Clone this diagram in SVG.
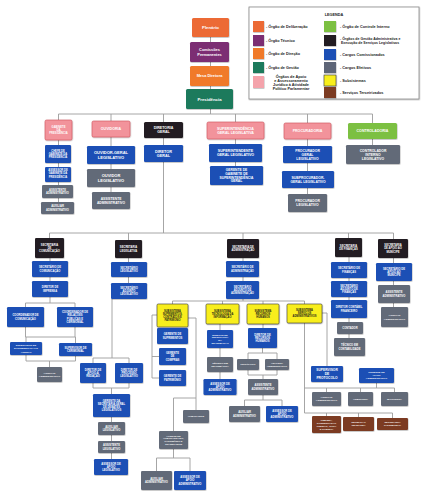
<svg xmlns="http://www.w3.org/2000/svg" width="433" height="502" viewBox="0 0 433 502">
<defs>
<filter id="sh" x="-10%" y="-10%" width="130%" height="140%"><feDropShadow dx="0.4" dy="0.6" stdDeviation="0.4" flood-color="#000" flood-opacity="0.35"/></filter>
<style>
.ln{fill:none;stroke:#9c9c9c;stroke-width:0.9}
rect{filter:url(#sh)}
.blue{fill:#1d4fb5}
.gray{fill:#626a78}
.blk{fill:#231f20}
.pink{fill:#f2939b;stroke:#d0505c;stroke-width:.6}
.yel{fill:#f8ee1d;stroke:#3a3a3a;stroke-width:.6}
.brn{fill:#7b3b22}
.grn{fill:#7cc043}
.org{fill:#f07a2a}
.red{fill:#ec6a35}
.pur{fill:#7b2d73}
.teal{fill:#1b7a5c}
text{font-family:"Liberation Sans",Arial,sans-serif;font-weight:bold;text-anchor:middle;fill:#fff;font-size:2.7px}
.dk{fill:#1a1a1a}
.lg{fill:#222;text-anchor:start;font-size:3.8px}
.s25{font-size:2.5px}
</style>
</defs>
<rect width="433" height="502" fill="#fff" style="filter:none"/>

<g id="connectors">
<path class="ln" d="M210.5,37V42M210.5,62V66M210.5,86V89M210.5,109V114"/>
<path class="ln" d="M58.5,114H372.5M58.5,114V120M111,114V121M163.5,114V122M235.5,114V122M307.5,114V123M372.5,114V123"/>
<path class="ln" d="M58.5,140V145M58.5,163V167M58.5,182V185M58.5,198V202"/>
<path class="ln" d="M111,137V146M111,164V169M111,187V192"/>
<path class="ln" d="M163.5,138V145M163.5,162V233"/>
<path class="ln" d="M235.5,139V144M235.5,162V166"/>
<path class="ln" d="M307.5,139V146M307.5,163V171M307.5,188V194"/>
<path class="ln" d="M372.5,139V145"/>
<path class="ln" d="M49.5,233H393.5M49.5,233V238M128.5,233V240M243,233V239M348.5,233V238M393.5,233V239"/>
<path class="ln" d="M50,258V261M50,277V281M50,297V303M25.5,303H75M25.5,303V307M75,303V307M25.5,327V337M75,327V337M25.5,337H75.5M26,337V342M75.5,337V343M26,355V361M75.5,356V361M26,361H75.5M49.5,361V367"/>
<path class="ln" d="M128.5,258V262M128.5,277V283M112,299V358M93,358H129M93,358V363M129,358V363M93,383V388M129,383V388M93,388H129M111.5,388V394M111.5,417V422M111.5,435V441M111.5,453V459"/>
<path class="ln" d="M243,258V261M243,277V281M243,299V301M172.5,301H304.5M172.5,301V304M222.5,301V304M263,301V304M304.5,301V304"/>
<path class="ln" d="M157,315H152V378H159M152,356.5H159M188,318H196V410M196,398H173.5V431M173.5,449V458M156.5,458H190M156.5,458V471M190,458V471"/>
<path class="ln" d="M220,324V379"/>
<path class="ln" d="M263,324V328M262.5,348V353M248,353H277M248,353V359M277,353V359M248,370V375M277,370V375M248,375H277M263,375V379M263,395V400M244.5,400H282M244.5,400V406M282,400V406"/>
<path class="ln" d="M304.5,304V413M304.5,388H394.5M326.5,388V392M360.5,388V392M394.5,388V392M376.5,383V388M304.5,413H392.5M326.5,413V416M358.5,413V417M392.5,413V418M322,313H327V366"/>
<path class="ln" d="M349,257V262M349,278V281M349,297V300M349,318V322M349,334V338"/>
<path class="ln" d="M393.5,258V263M393.5,281V285M393.5,303V307"/>
</g>

<g id="legenda">
<rect x="249" y="7" width="170" height="92" fill="#fff" stroke="#8a8a8a" stroke-width="0.8"/>
<text x="334" y="15.5" style="fill:#222;font-size:3.8px">LEGENDA</text>
<rect x="253" y="21" width="11" height="11" class="red"/>
<text class="lg" x="266" y="27.9">- Órgão de Deliberação</text>
<rect x="253" y="35" width="11" height="11" class="pur"/>
<text class="lg" x="266" y="41.9">- Órgão Técnico</text>
<rect x="253" y="48" width="11" height="11" class="org"/>
<text class="lg" x="266" y="54.9">- Órgão de Direção</text>
<rect x="253" y="62" width="11" height="11" class="teal"/>
<text class="lg" x="266" y="68.9">- Órgão de Gestão</text>
<rect x="253" y="76" width="11" height="12" fill="#f4a3ab"/>
<text class="lg" style="text-anchor:middle" x="291" y="77.6"><tspan x="291">Órgãos de Apoio</tspan><tspan x="291" dy="4.1">e Assessoramento</tspan><tspan x="291" dy="4.1">Jurídico à Atividade</tspan><tspan x="291" dy="4.1">Político Parlamentar</tspan></text>
<rect x="324" y="21" width="12" height="11" class="grn"/>
<text class="lg" x="340" y="27.9">- Órgão de Controle Interno</text>
<rect x="324" y="35" width="12" height="11" class="blk"/>
<text class="lg" x="340" y="39.8" style="font-size:3.5px"><tspan x="340">- Órgãos de Gestão Administrativa e</tspan><tspan x="341" dy="4">Execução de Serviços Legislativos</tspan></text>
<rect x="324" y="49" width="12" height="11" class="blue"/>
<text class="lg" x="340" y="55.9">- Cargos Comissionados</text>
<rect x="324" y="62" width="12" height="11" fill="#5d6577"/>
<text class="lg" x="340" y="68.9">- Cargos Efetivos</text>
<rect x="324" y="75" width="12" height="11" class="yel"/>
<text class="lg" x="340" y="81.9">- Subsistemas</text>
<rect x="324" y="87" width="12" height="11" class="brn"/>
<text class="lg" x="340" y="93.9">- Serviços Terceirizados</text>
</g>

<g id="plenario"><rect x="192" y="18" width="37" height="19" rx="1.5" class="red"/><text x="210.5" y="29.1" style="font-size:4.3px">Plenário</text></g>
<g id="comissoes"><rect x="190" y="42" width="39" height="20" rx="1.5" class="pur"/><text style="font-size:3.9px"><tspan x="209.5" y="51.1">Comissões</tspan><tspan x="209.5" y="55.7">Permanentes</tspan></text></g>
<g id="mesa"><rect x="190" y="66" width="39" height="20" rx="1.5" class="org"/><text x="209.5" y="77.4" style="font-size:3.9px">Mesa Diretora</text></g>
<g id="presidencia"><rect x="186" y="89" width="47" height="20" rx="1.5" class="teal"/><text x="209.5" y="100.6" style="font-size:4.3px">Presidência</text></g>

<g id="gab_pres"><rect x="45" y="120" width="27" height="20" rx="1.5" class="pink"/><text><tspan x="58.5" y="127.7">GABINETE</tspan><tspan x="58.5" y="131">DA</tspan><tspan x="58.5" y="134.3">PRESIDÊNCIA</tspan></text></g>
<g id="ouvidoria"><rect x="92" y="121" width="38" height="16" rx="1.5" class="pink"/><text x="111" y="130.25" style="font-size:3.6px">OUVIDORIA</text></g>
<g id="dir_geral"><rect x="144" y="122" width="39" height="16" rx="1.5" class="blk"/><text style="font-size:3.6px"><tspan x="163.5" y="129.2">DIRETORIA</tspan><tspan x="163.5" y="133.3">GERAL</tspan></text></g>
<g id="superint"><rect x="207" y="122" width="57" height="17" rx="1.5" class="pink"/><text style="font-size:3.6px"><tspan x="235.5" y="129.7">SUPERINTENDÊNCIA</tspan><tspan x="235.5" y="133.8">GERAL LEGISLATIVA</tspan></text></g>
<g id="procuradoria"><rect x="284" y="123" width="47" height="16" rx="1.5" class="pink"/><text x="307.5" y="132.25" style="font-size:3.6px">PROCURADORIA</text></g>
<g id="controladoria"><rect x="348" y="123" width="49" height="16" rx="1.5" class="grn"/><text x="372.5" y="132.25" style="font-size:3.6px">CONTROLADORIA</text></g>

<g id="chefe_gab"><rect x="45" y="145" width="26" height="18" rx="1.2" class="blue"/><text><tspan x="58" y="151.85">CHEFE DE</tspan><tspan x="58" y="154.95">GABINETE DA</tspan><tspan x="58" y="158.05">PRESIDÊNCIA</tspan></text></g>
<g id="assessor_gab"><rect x="45" y="167" width="26" height="15" rx="1.2" class="blue"/><text><tspan x="58" y="171.35">ASSESSOR DE</tspan><tspan x="58" y="174.45">GABINETE DA</tspan><tspan x="58" y="177.55">PRESIDÊNCIA</tspan></text></g>
<g id="assist_gab"><rect x="42" y="185" width="31" height="13" rx="1.2" class="gray"/><text><tspan x="57.5" y="190.9">ASSISTENTE</tspan><tspan x="57.5" y="194">ADMINISTRATIVO</tspan></text></g>
<g id="aux_gab"><rect x="41" y="202" width="33" height="12" rx="1.2" class="gray"/><text><tspan x="57.5" y="207.4">AUXILIAR</tspan><tspan x="57.5" y="210.5">ADMINISTRATIVO</tspan></text></g>

<g id="ouvidor_geral"><rect x="87" y="146" width="48" height="18" rx="1.2" class="blue"/><text style="font-size:4px"><tspan x="111" y="154.1">OUVIDOR-GERAL</tspan><tspan x="111" y="158.7">LEGISLATIVO</tspan></text></g>
<g id="ouvidor_leg"><rect x="87" y="169" width="48" height="18" rx="1.2" class="gray"/><text style="font-size:4px"><tspan x="111" y="177.1">OUVIDOR</tspan><tspan x="111" y="181.7">LEGISLATIVO</tspan></text></g>
<g id="assist_ouv"><rect x="92" y="192" width="38" height="17" rx="1.2" class="gray"/><text style="font-size:3.3px"><tspan x="111" y="199.75">ASSISTENTE</tspan><tspan x="111" y="203.55">ADMINISTRATIVO</tspan></text></g>
<g id="diretor_geral"><rect x="144" y="145" width="39" height="17" rx="1.2" class="blue"/><text style="font-size:3.8px"><tspan x="163.5" y="152.6">DIRETOR</tspan><tspan x="163.5" y="157">GERAL</tspan></text></g>
<g id="superintendente"><rect x="209" y="144" width="53" height="18" rx="1.2" class="blue"/><text style="font-size:3.6px"><tspan x="235.5" y="152.2">SUPERINTENDENTE</tspan><tspan x="235.5" y="156.3">GERAL LEGISLATIVO</tspan></text></g>
<g id="gerente_gab_sup"><rect x="210" y="166" width="53" height="19" rx="1.2" class="blue"/><text style="font-size:3.3px"><tspan x="236.5" y="171.1">GERENTE DE</tspan><tspan x="236.5" y="174.8">GABINETE DE</tspan><tspan x="236.5" y="178.5">SUPERINTENDÊNCIA</tspan><tspan x="236.5" y="182.2">GERAL</tspan></text></g>
<g id="procurador_geral"><rect x="283" y="146" width="49" height="17" rx="1.2" class="blue"/><text style="font-size:3.4px"><tspan x="307.5" y="151.8">PROCURADOR</tspan><tspan x="307.5" y="155.7">GERAL</tspan><tspan x="307.5" y="159.6">LEGISLATIVO</tspan></text></g>
<g id="subprocurador"><rect x="282" y="171" width="52" height="17" rx="1.2" class="blue"/><text style="font-size:3.4px"><tspan x="308" y="178.75">SUBPROCURADOR-</tspan><tspan x="308" y="182.65">GERAL LEGISLATIVO</tspan></text></g>
<g id="procurador_leg"><rect x="288" y="194" width="39" height="18" rx="1.2" class="gray"/><text style="font-size:3.4px"><tspan x="307.5" y="202.25">PROCURADOR</tspan><tspan x="307.5" y="206.15">LEGISLATIVO</tspan></text></g>
<g id="controlador"><rect x="346" y="145" width="54" height="19" rx="1.2" class="gray"/><text style="font-size:3.4px"><tspan x="373" y="151.8">CONTROLADOR</tspan><tspan x="373" y="155.7">INTERNO</tspan><tspan x="373" y="159.6">LEGISLATIVO</tspan></text></g>

<g id="sec_com"><rect x="35" y="238" width="29" height="20" rx="1.2" class="blk"/><text><tspan x="49.5" y="245.85">SECRETARIA</tspan><tspan x="49.5" y="248.95">DE</tspan><tspan x="49.5" y="252.05">COMUNICAÇÃO</tspan></text></g>
<g id="sec_leg"><rect x="115" y="240" width="27" height="18" rx="1.2" class="blk"/><text><tspan x="128.5" y="248.4">SECRETARIA</tspan><tspan x="128.5" y="251.5">LEGISLATIVA</tspan></text></g>
<g id="sec_adm"><rect x="227" y="239" width="32" height="19" rx="1.2" class="blk"/><text><tspan x="243" y="247.9">SECRETARIA DE</tspan><tspan x="243" y="251">ADMINISTRAÇÃO</tspan></text></g>
<g id="sec_fin"><rect x="335" y="238" width="27" height="19" rx="1.2" class="blk"/><text><tspan x="348.5" y="246.9">SECRETARIA</tspan><tspan x="348.5" y="250">DE FINANÇAS</tspan></text></g>
<g id="sec_mun"><rect x="378" y="239" width="30" height="19" rx="1.2" class="blk"/><text><tspan x="393" y="246.35">SECRETARIA</tspan><tspan x="393" y="249.45">DE APOIO AO</tspan><tspan x="393" y="252.55">MUNÍCIPE</tspan></text></g>

<g id="secretario_com"><rect x="32" y="261" width="36" height="16" rx="1.2" class="blue"/><text><tspan x="50" y="268.4">SECRETÁRIO DE</tspan><tspan x="50" y="271.5">COMUNICAÇÃO</tspan></text></g>
<g id="diretor_imp"><rect x="32" y="281" width="36" height="16" rx="1.2" class="blue"/><text><tspan x="50" y="288.4">DIRETOR DE</tspan><tspan x="50" y="291.5">IMPRENSA</tspan></text></g>
<g id="coord_com"><rect x="7" y="307" width="37" height="20" rx="1.2" class="blue"/><text><tspan x="25.5" y="316.4">COORDENADOR DE</tspan><tspan x="25.5" y="319.5">COMUNICAÇÃO</tspan></text></g>
<g id="coord_rel"><rect x="57" y="307" width="36" height="20" rx="1.2" class="blue"/><text><tspan x="75" y="313.3">COORDENADOR DE</tspan><tspan x="75" y="316.4">RELAÇÕES</tspan><tspan x="75" y="319.5">PÚBLICAS E</tspan><tspan x="75" y="322.6">CERIMONIAL</tspan></text></g>
<g id="sup_doc"><rect x="10" y="342" width="32" height="13" rx="1.2" class="blue"/><text class="s25"><tspan x="26" y="346.35">SUPERVISOR DE</tspan><tspan x="26" y="349.45">DOCUMENTAÇÃO E</tspan><tspan x="26" y="352.55">ACERVO</tspan></text></g>
<g id="sup_cer"><rect x="59" y="343" width="33" height="13" rx="1.2" class="blue"/><text><tspan x="75.5" y="348.9">SUPERVISOR DE</tspan><tspan x="75.5" y="352">CERIMONIAL</tspan></text></g>
<g id="aux_com"><rect x="37" y="367" width="25" height="15" rx="1.2" class="gray"/><text class="s25"><tspan x="49.5" y="373.93">AUXILIAR</tspan><tspan x="49.5" y="376.83">ADMINISTRATIVO</tspan></text></g>

<g id="secretario_leg"><rect x="111" y="262" width="36" height="15" rx="1.2" class="blue"/><text><tspan x="129" y="268.9">SECRETÁRIO</tspan><tspan x="129" y="272">LEGISLATIVO</tspan></text></g>
<g id="adjunto_leg"><rect x="111" y="283" width="36" height="16" rx="1.2" class="blue"/><text><tspan x="129" y="288.85">SECRETÁRIO</tspan><tspan x="129" y="291.95">ADJUNTO</tspan><tspan x="129" y="295.05">LEGISLATIVO</tspan></text></g>
<g id="dir_redacao"><rect x="80" y="363" width="26" height="20" rx="1.2" class="blue"/><text><tspan x="93" y="370.85">DIRETOR DE</tspan><tspan x="93" y="373.95">APOIO À</tspan><tspan x="93" y="377.05">REDAÇÃO</tspan></text></g>
<g id="dir_processo"><rect x="115" y="363" width="28" height="20" rx="1.2" class="blue"/><text><tspan x="129" y="370.85">DIRETOR DE</tspan><tspan x="129" y="373.95">PROCESSO</tspan><tspan x="129" y="377.05">LEGISLATIVO</tspan></text></g>
<g id="gerente_sec"><rect x="93" y="394" width="37" height="23" rx="1.2" class="blue"/><text><tspan x="111.5" y="401.8">GERENTE DA</tspan><tspan x="111.5" y="404.9">SECRETARIA GERAL</tspan><tspan x="111.5" y="408">DE DEBATES</tspan><tspan x="111.5" y="411.1">LEGISLATIVOS</tspan></text></g>
<g id="aux_leg"><rect x="98" y="422" width="27" height="13" rx="1.2" class="gray"/><text><tspan x="111.5" y="427.9">AUXILIAR</tspan><tspan x="111.5" y="431">LEGISLATIVO</tspan></text></g>
<g id="assist_leg"><rect x="98" y="441" width="27" height="12" rx="1.2" class="gray"/><text><tspan x="111.5" y="446.4">ASSISTENTE</tspan><tspan x="111.5" y="449.5">LEGISLATIVO</tspan></text></g>
<g id="assessor_leg"><rect x="94" y="459" width="34" height="16" rx="1.2" class="blue"/><text><tspan x="111" y="464.85">ASSESSOR DE</tspan><tspan x="111" y="467.95">APOIO</tspan><tspan x="111" y="471.05">LEGISLATIVO</tspan></text></g>

<g id="secretario_adm"><rect x="226" y="261" width="33" height="16" rx="1.2" class="blue"/><text><tspan x="242.5" y="268.4">SECRETÁRIO DE</tspan><tspan x="242.5" y="271.5">ADMINISTRAÇÃO</tspan></text></g>
<g id="adjunto_adm"><rect x="226" y="281" width="33" height="18" rx="1.2" class="blue"/><text><tspan x="242.5" y="287.85">SECRETÁRIO</tspan><tspan x="242.5" y="290.95">ADJUNTO DE</tspan><tspan x="242.5" y="294.05">ADMINISTRAÇÃO</tspan></text></g>
<g id="sub_sup"><rect x="157" y="304" width="31" height="23" rx="1.2" class="yel"/><text class="dk" style="font-size:2.6px"><tspan x="172.5" y="311.9">SUBSISTEMA</tspan><tspan x="172.5" y="314.9">SUPRIMENTOS,</tspan><tspan x="172.5" y="317.9">CONTRATOS E</tspan><tspan x="172.5" y="320.9">PATRIMÔNIO</tspan></text></g>
<g id="sub_ti"><rect x="206" y="304" width="33" height="20" rx="1.2" class="yel"/><text class="dk" style="font-size:2.6px"><tspan x="222.5" y="311.9">SUBSISTEMA</tspan><tspan x="222.5" y="314.9">TECNOLOGIA DA</tspan><tspan x="222.5" y="317.9">INFORMAÇÃO</tspan></text></g>
<g id="sub_rh"><rect x="247" y="304" width="32" height="20" rx="1.2" class="yel"/><text class="dk" style="font-size:2.6px"><tspan x="263" y="311.9">SUBSISTEMA</tspan><tspan x="263" y="314.9">RECURSOS</tspan><tspan x="263" y="317.9">HUMANOS</tspan></text></g>
<g id="sub_serv"><rect x="287" y="304" width="35" height="19" rx="1.2" class="yel"/><text class="dk" style="font-size:2.6px"><tspan x="304.5" y="311.4">SUBSISTEMA</tspan><tspan x="304.5" y="314.4">SERVIÇOS</tspan><tspan x="304.5" y="317.4">ADMINISTRATIVOS</tspan></text></g>

<g id="ger_sup"><rect x="157" y="328" width="31" height="16" rx="1.2" class="blue"/><text><tspan x="172.5" y="335.4">GERENTE DE</tspan><tspan x="172.5" y="338.5">SUPRIMENTOS</tspan></text></g>
<g id="ger_comp"><rect x="159" y="348" width="27" height="17" rx="1.2" class="blue"/><text><tspan x="172.5" y="354.35">GERENTE</tspan><tspan x="172.5" y="357.45">DE</tspan><tspan x="172.5" y="360.55">COMPRAS</tspan></text></g>
<g id="ger_pat"><rect x="159" y="370" width="27" height="16" rx="1.2" class="blue"/><text><tspan x="172.5" y="377.4">GERENTE DE</tspan><tspan x="172.5" y="380.5">PATRIMÔNIO</tspan></text></g>
<g id="almox"><rect x="183" y="410" width="26" height="13" rx="1.2" class="gray"/><text class="s25" x="196" y="417.4">ALMOXARIFE</text></g>
<g id="agente"><rect x="159" y="431" width="29" height="18" rx="1.2" class="gray"/><text class="s25"><tspan x="173.5" y="436.53">AGENTE DE</tspan><tspan x="173.5" y="439.43">ALMOXARIFADO,</tspan><tspan x="173.5" y="442.33">PATRIMÔNIO E</tspan><tspan x="173.5" y="445.23">TRANSPORTE</tspan></text></g>
<g id="aux_sup"><rect x="141" y="471" width="31" height="19" rx="1.2" class="gray"/><text><tspan x="156.5" y="479.9">AUXILIAR</tspan><tspan x="156.5" y="483">ADMINISTRATIVO</tspan></text></g>
<g id="assessor_sup"><rect x="174" y="471" width="32" height="19" rx="1.2" class="blue"/><text><tspan x="190" y="478.35">ASSESSOR DE</tspan><tspan x="190" y="481.45">APOIO</tspan><tspan x="190" y="484.55">ADMINISTRATIVO</tspan></text></g>

<g id="dir_ti"><rect x="207" y="330" width="26" height="18" rx="1.2" class="blue"/><text class="s25"><tspan x="220" y="335.53">DIRETOR DE</tspan><tspan x="220" y="338.43">TECNOLOGIA</tspan><tspan x="220" y="341.33">DA</tspan><tspan x="220" y="344.23">INFORMAÇÃO</tspan></text></g>
<g id="tec_inf"><rect x="207" y="357" width="26" height="15" rx="1.2" class="gray"/><text class="s25"><tspan x="220" y="363.9">TÉCNICO EM</tspan><tspan x="220" y="366.9">INFORMÁTICA</tspan></text></g>
<g id="assessor_ti"><rect x="203.5" y="379" width="33" height="16" rx="1.2" class="blue"/><text><tspan x="220" y="384.85">ASSESSOR DE</tspan><tspan x="220" y="387.95">APOIO</tspan><tspan x="220" y="391.05">ADMINISTRATIVO</tspan></text></g>

<g id="dir_rh"><rect x="248" y="328" width="29" height="20" rx="1.2" class="blue"/><text><tspan x="262.5" y="335.85">DIRETOR DE</tspan><tspan x="262.5" y="338.95">RECURSOS</tspan><tspan x="262.5" y="342.05">HUMANOS</tspan></text></g>
<g id="psicologo"><rect x="237" y="359" width="22" height="11" rx="1.2" class="gray"/><text class="s25" x="248" y="365.4">PSICÓLOGO</text></g>
<g id="analista"><rect x="265" y="359" width="24" height="11" rx="1.2" class="gray"/><text style="font-size:2.4px"><tspan x="277" y="363.95">ANALISTA</tspan><tspan x="277" y="366.75">ADMINISTRATIVO</tspan></text></g>
<g id="assist_rh"><rect x="248" y="379" width="30" height="16" rx="1.2" class="gray"/><text><tspan x="263" y="386.4">ASSISTENTE</tspan><tspan x="263" y="389.5">ADMINISTRATIVO</tspan></text></g>
<g id="aux_rh"><rect x="229" y="406" width="31" height="16" rx="1.2" class="gray"/><text><tspan x="244.5" y="413.4">AUXILIAR</tspan><tspan x="244.5" y="416.5">ADMINISTRATIVO</tspan></text></g>
<g id="assessor_rh"><rect x="266" y="406" width="32" height="16" rx="1.2" class="blue"/><text><tspan x="282" y="411.85">ASSESSOR DE</tspan><tspan x="282" y="414.95">APOIO</tspan><tspan x="282" y="418.05">ADMINISTRATIVO</tspan></text></g>

<g id="sup_prot"><rect x="311" y="366" width="32" height="16" rx="1.2" class="blue"/><text style="font-size:3.3px"><tspan x="327" y="371.45">SUPERVISOR</tspan><tspan x="327" y="375.15">DE</tspan><tspan x="327" y="378.85">PROTOCOLO</tspan></text></g>
<g id="ger_apoio"><rect x="359" y="368" width="35" height="15" rx="1.2" class="blue"/><text class="s25"><tspan x="376.5" y="373.48">GERENTE DE</tspan><tspan x="376.5" y="376.38">APOIO</tspan><tspan x="376.5" y="379.28">ADMINISTRATIVO</tspan></text></g>
<g id="aux_serv"><rect x="312" y="392" width="29" height="14" rx="1.2" class="gray"/><text class="s25"><tspan x="326.5" y="398.43">AUXILIAR</tspan><tspan x="326.5" y="401.33">ADMINISTRATIVO</tspan></text></g>
<g id="arquivista"><rect x="348" y="392" width="25" height="14" rx="1.2" class="gray"/><text class="s25" x="360.5" y="399.9">ARQUIVISTA</text></g>
<g id="motorista"><rect x="381" y="392" width="27" height="14" rx="1.2" class="gray"/><text class="s25" x="394.5" y="399.9">MOTORISTA</text></g>
<g id="limpeza"><rect x="312" y="416" width="29" height="17" rx="1.2" class="brn"/><text class="s25"><tspan x="326.5" y="421.03">LIMPEZA,</tspan><tspan x="326.5" y="423.93">CONSERVAÇÃO</tspan><tspan x="326.5" y="426.83">PREDIAL, COPA</tspan><tspan x="326.5" y="429.73">E COZINHA</tspan></text></g>
<g id="recepcao"><rect x="343" y="417" width="31" height="14" rx="1.2" class="brn"/><text class="s25"><tspan x="358.5" y="423.43">RECEPÇÃO</tspan><tspan x="358.5" y="426.33">TELEFONIA</tspan></text></g>
<g id="seguranca"><rect x="377" y="418" width="31" height="12" rx="1.2" class="brn"/><text class="s25"><tspan x="392.5" y="423.43">SEGURANÇA</tspan><tspan x="392.5" y="426.33">PATRIMONIAL</tspan></text></g>

<g id="secretario_fin"><rect x="331" y="262" width="36" height="16" rx="1.2" class="blue"/><text><tspan x="349" y="269.4">SECRETÁRIO DE</tspan><tspan x="349" y="272.5">FINANÇAS</tspan></text></g>
<g id="adjunto_fin"><rect x="331" y="281" width="36" height="16" rx="1.2" class="blue"/><text><tspan x="349" y="286.85">SECRETÁRIO</tspan><tspan x="349" y="289.95">ADJUNTO DE</tspan><tspan x="349" y="293.05">FINANÇAS</tspan></text></g>
<g id="dir_cont"><rect x="331" y="300" width="36" height="18" rx="1.2" class="blue"/><text><tspan x="349" y="308.4">DIRETOR CONTÁBIL</tspan><tspan x="349" y="311.5">FINANCEIRO</tspan></text></g>
<g id="contador"><rect x="337" y="322" width="26" height="12" rx="1.2" class="gray"/><text x="350" y="328.95">CONTADOR</text></g>
<g id="tec_cont"><rect x="334" y="338" width="31" height="18" rx="1.2" class="gray"/><text><tspan x="349.5" y="346.4">TÉCNICO EM</tspan><tspan x="349.5" y="349.5">CONTABILIDADE</tspan></text></g>

<g id="secretario_mun"><rect x="376" y="263" width="36" height="18" rx="1.2" class="blue"/><text><tspan x="394" y="269.85">SECRETÁRIO DE</tspan><tspan x="394" y="272.95">APOIO AO</tspan><tspan x="394" y="276.05">MUNÍCIPE</tspan></text></g>
<g id="assist_mun"><rect x="378" y="285" width="32" height="18" rx="1.2" class="gray"/><text><tspan x="394" y="293.4">ASSISTENTE</tspan><tspan x="394" y="296.5">ADMINISTRATIVO</tspan></text></g>
<g id="aux_mun"><rect x="381" y="307" width="27" height="20" rx="1.2" class="gray"/><text class="s25"><tspan x="394.5" y="316.4">AUXILIAR</tspan><tspan x="394.5" y="319.5">ADMINISTRATIVO</tspan></text></g>
</svg>
